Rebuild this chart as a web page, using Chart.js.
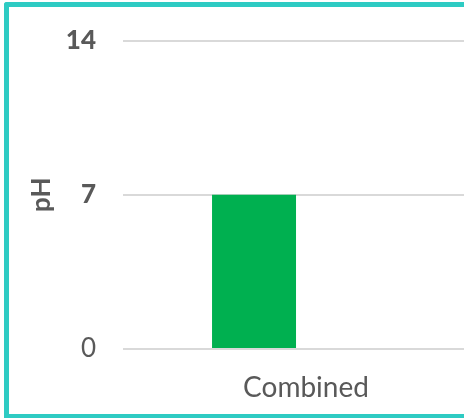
<!DOCTYPE html>
<html>
<head>
<meta charset="utf-8">
<script src="https://cdn.jsdelivr.net/npm/chart.js@4/dist/chart.umd.min.js"></script>
<style>
  html, body { margin: 0; padding: 0; background: #fff; overflow: hidden; width: 464px; height: 418px; }
  #frame {
    position: absolute; left: 4px; top: 2px;
    border-left: 5px solid #2ecbc3; border-top: 5px solid #2ecbc3; border-bottom: 5px solid #2ecbc3;
    border-top-left-radius: 3px;
    width: 480px; height: 407px; background: #fff; overflow: hidden;
  }
  #chart { display: block; position: relative; top: -9px; }
</style>
</head>
<body>
<div id="frame"><canvas id="chart" width="480" height="415"></canvas></div>
<script>
// pH of the combined sample
const categories = ['Combined'];
const phValues = [7];
const yTicks = [0, 7, 14];

const tickColor = '#595959';

new Chart(document.getElementById('chart'), {
  type: 'bar',
  data: {
    labels: categories,
    datasets: [
      { label: 'pH', data: phValues, backgroundColor: '#00b050', barPercentage: 0.808, categoryPercentage: 0.568 },
      { label: '', data: [null], backgroundColor: 'rgba(0,0,0,0)', barPercentage: 0.808, categoryPercentage: 0.568 }
    ]
  },
  options: {
    responsive: false,
    animation: false,
    devicePixelRatio: 1,
    layout: { padding: { left: 5, right: 0, top: 12, bottom: 11 } },
    plugins: { legend: { display: false }, tooltip: { enabled: false } },
    scales: {
      x: {
        afterFit: (scale) => { scale.height = 53; },
        grid: { display: false, drawTicks: false },
        border: { display: false },
        ticks: {
          color: tickColor,
          padding: 22,
          font: { family: 'Lato', size: 28, weight: 'normal' }
        }
      },
      y: {
        min: yTicks[0],
        max: yTicks[yTicks.length - 1],
        afterBuildTicks: (scale) => { scale.ticks = yTicks.map(v => ({ value: v })); },
        afterFit: (scale) => { scale.width = 109; },
        grid: { color: '#d9d9d9', lineWidth: 2, drawTicks: false },
        border: { display: false },
        ticks: {
          color: tickColor,
          padding: 27,
          font: (ctx) => ({
            family: 'Lato',
            size: 26,
            weight: (ctx.tick && ctx.tick.value === 0) ? 'normal' : 900
          })
        },
        title: {
          display: true,
          text: 'pH',
          color: tickColor,
          padding: { top: 12, bottom: 12 },
          font: { family: 'Lato', size: 26, weight: 'bold' }
        }
      }
    }
  }
});
</script>
</body>
</html>
